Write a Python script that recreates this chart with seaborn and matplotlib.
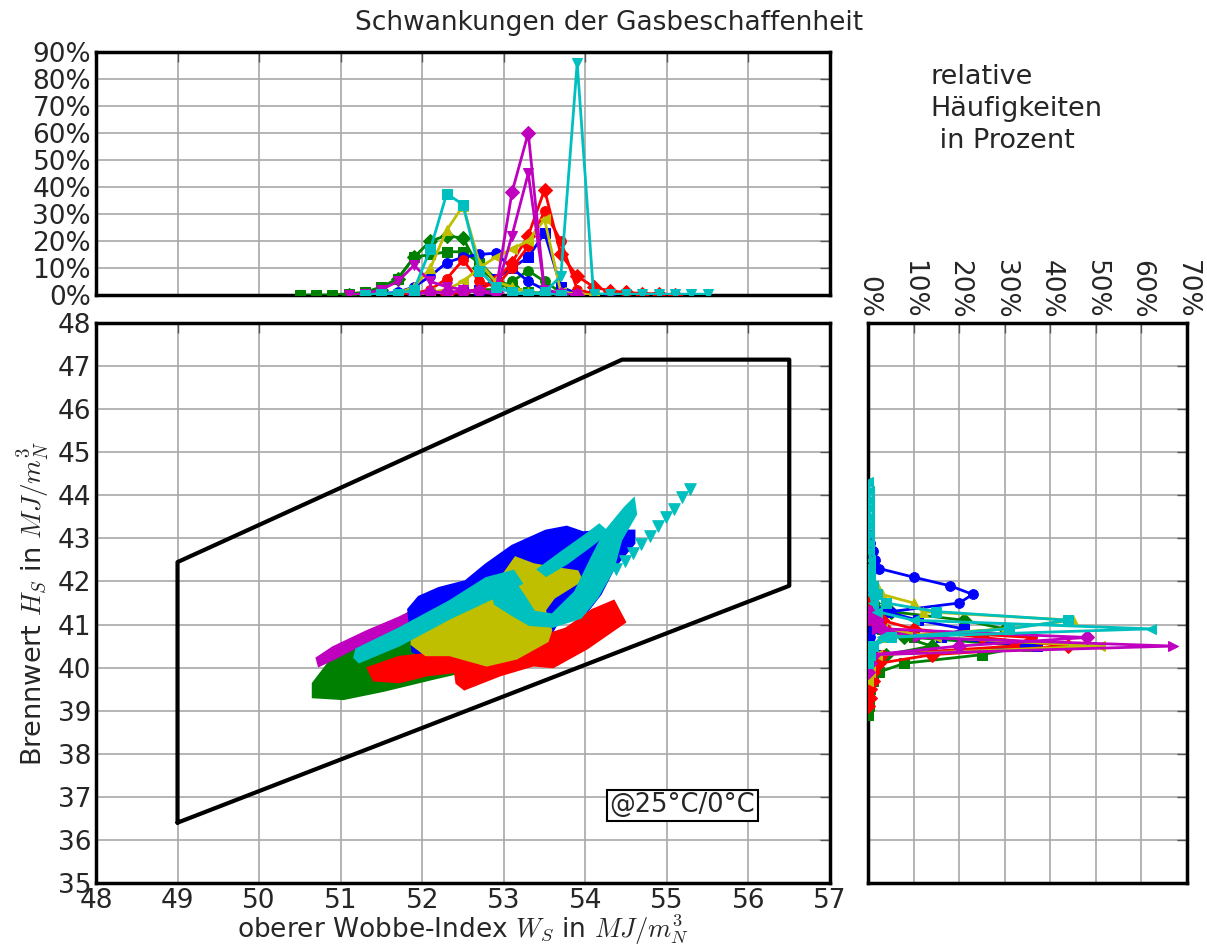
import matplotlib
matplotlib.use("Agg")
import matplotlib.pyplot as plt
import seaborn as sns

# Farben (klassisches matplotlib b g r c m y)
C_B = "#0000ff"
C_G = "#008000"
C_R = "#ff0000"
C_C = "#00bfbf"
C_M = "#bf00bf"
C_Y = "#bfbf00"

# Grenzpolygon (Wobbe-Index / Brennwert)
bound_x = [49.0, 49.0, 54.45, 56.5, 56.5, 49.0]
bound_y = [36.4, 42.45, 47.15, 47.15, 41.9, 36.4]

green_x = [50.68, 50.68, 51.03, 51.52, 52.13, 52.66, 52.9, 52.79, 52.70, 52.13, 51.52, 51.11, 50.87]
green_y = [39.62, 39.35, 39.31, 39.50, 39.78, 40.01, 40.3, 41.73, 41.81, 41.19, 40.72, 40.40, 40.09]

magenta_x = [50.72, 50.91, 51.32, 51.72, 52.05, 52.42, 52.50, 52.13, 51.72, 51.32, 50.91, 50.74]
magenta_y = [40.21, 40.45, 40.82, 41.14, 41.45, 41.78, 41.69, 41.26, 40.92, 40.62, 40.22, 40.07]

blue_x = [51.85, 51.97, 52.21, 52.54, 52.79, 53.11, 53.52, 53.77, 53.97, 54.26, 54.58,
          54.58, 54.34, 54.17, 54.01, 53.68, 53.50, 52.95, 52.30, 51.90]
blue_y = [41.34, 41.61, 41.81, 41.97, 42.36, 42.79, 43.14, 43.23, 43.10, 43.14, 43.14,
          42.90, 42.36, 41.73, 41.34, 41.19, 40.60, 40.30, 40.10, 40.40]

red_x = [51.36, 51.42, 51.72, 52.05, 52.42, 52.44, 52.52, 52.95, 53.36, 53.60, 54.01,
         54.46, 54.34, 54.09, 53.77, 53.52, 52.95, 52.54, 52.13, 51.72]
red_y = [39.97, 39.74, 39.70, 39.86, 39.94, 39.66, 39.54, 39.86, 40.09, 40.05, 40.48,
         41.07, 41.50, 41.30, 40.87, 40.72, 40.40, 40.33, 40.29, 40.21]

yellow_x = [51.89, 52.21, 52.54, 52.95, 53.15, 53.36, 53.60, 53.89, 53.93, 53.60, 53.48,
            53.56, 53.52, 53.15, 52.79, 52.34, 52.05, 51.89]
yellow_y = [40.87, 41.03, 41.58, 41.97, 42.51, 42.36, 42.28, 42.20, 42.04, 41.65, 41.34,
            40.87, 40.64, 40.25, 40.09, 40.33, 40.33, 40.56]

cyan_a_x = [51.19, 51.21, 51.72, 52.34, 52.79, 53.11, 53.19, 52.95, 52.34, 51.72, 51.23]
cyan_a_y = [40.25, 40.40, 40.87, 41.50, 42.04, 42.20, 41.97, 41.73, 41.19, 40.56, 40.17]
cyan_b_x = [52.87, 53.11, 53.23, 53.36, 53.60, 53.89, 54.09, 54.26, 54.50, 54.58, 54.60,
            54.42, 54.32, 54.13, 53.93, 53.60, 53.32, 53.11, 52.91]
cyan_b_y = [41.81, 41.97, 41.65, 41.26, 41.19, 41.73, 42.51, 43.14, 43.69, 43.84, 43.57,
            42.98, 42.28, 41.65, 41.19, 40.99, 41.03, 41.26, 41.50]
cyan_c_x = [53.44, 53.72, 54.01, 54.17, 54.26, 54.05, 53.77, 53.52]
cyan_c_y = [42.28, 42.67, 43.06, 43.29, 43.14, 42.83, 42.44, 42.16]
cyan_streak_x = [54.38, 54.48, 54.58, 54.68, 54.79, 54.89, 54.99, 55.09, 55.19, 55.28]
cyan_streak_y = [42.28, 42.47, 42.67, 42.86, 43.06, 43.29, 43.49, 43.69, 43.96, 44.15]

# Häufigkeiten oben (Wobbe-Index, Klassenbreite 0.2)
g_sq_x = [50.5, 50.7, 50.9, 51.1, 51.3, 51.5, 51.7, 51.9, 52.1, 52.3, 52.5, 52.7, 52.9, 53.1, 53.3, 53.5, 53.7]
g_sq_y = [0, 0, 0, 0.5, 1, 3, 6, 14, 15, 16, 16, 12, 6, 3, 1, 0.5, 0]
g_di_x = [51.1, 51.3, 51.5, 51.7, 51.9, 52.1, 52.3, 52.5, 52.7, 52.9, 53.1, 53.3, 53.5, 53.7]
g_di_y = [0, 0.5, 2, 6, 14, 20, 22, 21, 10, 5, 3, 1, 0.5, 0]
g_lo_x = [52.3, 52.5, 52.7, 52.9, 53.1, 53.3, 53.5, 53.7, 53.9, 54.1]
g_lo_y = [0.5, 1, 2, 2, 5, 9, 5, 1, 0, 0]
c_sq_x = [51.3, 51.5, 51.7, 51.9, 52.1, 52.3, 52.5, 52.7, 52.9, 53.1, 53.3, 53.5, 53.7]
c_sq_y = [0, 0.5, 0.5, 2, 17, 37.5, 33.5, 9, 3, 1, 0.5, 0.5, 0]
c_tr_x = [53.1, 53.3, 53.5, 53.7, 53.9, 54.1, 54.3, 54.5, 54.7, 54.9, 55.1, 55.3, 55.5]
c_tr_y = [0, 0.5, 1, 7, 86, 0.5, 0.3, 0.3, 0.3, 0.3, 0.3, 0.3, 0.3]
m_di_x = [51.9, 52.1, 52.3, 52.5, 52.7, 52.9, 53.1, 53.3, 53.5, 53.7, 53.9]
m_di_y = [0.5, 1, 1, 1.5, 1.5, 1, 38, 60, 1, 0.5, 0]
m_tr_x = [51.1, 51.3, 51.5, 51.7, 51.9, 52.1, 52.3, 52.5, 52.7, 52.9, 53.1, 53.3, 53.5, 53.7, 53.9]
m_tr_y = [0, 0.5, 2, 5, 11, 5, 3, 2, 1, 0.5, 22, 45, 2, 0.5, 0]
r_di_x = [52.3, 52.5, 52.7, 52.9, 53.1, 53.3, 53.5, 53.7, 53.9, 54.1, 54.3, 54.5, 54.7, 54.9, 55.1]
r_di_y = [0.5, 1, 2, 5, 12, 22, 39, 15, 7, 3, 1.5, 1, 0.5, 0.5, 0]
r_o_x = [51.7, 51.9, 52.1, 52.3, 52.5, 52.7, 52.9, 53.1, 53.3, 53.5, 53.7, 53.9, 54.1]
r_o_y = [0, 0.5, 2, 6, 13, 5, 3, 10, 18, 31, 20, 2, 0.5]
y_tr_x = [51.5, 51.7, 51.9, 52.1, 52.3, 52.5, 52.7, 52.9, 53.1, 53.3, 53.5, 53.7]
y_tr_y = [0, 0.5, 3, 10, 24, 33, 12, 5, 3, 1, 0.5, 0]
y_tl_x = [51.9, 52.1, 52.3, 52.5, 52.7, 52.9, 53.1, 53.3, 53.5, 53.7, 53.9, 54.1]
y_tl_y = [0, 1, 2, 5, 10, 14, 17, 20, 28, 1, 0.5, 0]
b_o_x = [51.5, 51.7, 51.9, 52.1, 52.3, 52.5, 52.7, 52.9, 53.1, 53.3, 53.5, 53.7, 53.9, 54.1]
b_o_y = [0.5, 1, 3, 7, 12, 14, 15, 15.5, 10, 5, 2, 0.5, 0, 0]
b_sq_x = [52.3, 52.5, 52.7, 52.9, 53.1, 53.3, 53.5, 53.7, 53.9, 54.1, 54.3]
b_sq_y = [0.5, 1, 2, 6, 10, 14, 23, 3, 0.5, 0, 0]

# Häufigkeiten rechts (Brennwert, Klassenbreite 0.2)
rb_o_y = [40.3, 40.5, 40.7, 40.9, 41.1, 41.3, 41.5, 41.7, 41.9, 42.1, 42.3, 42.5, 42.7, 42.9, 43.1]
rb_o_x = [0, 0, 0.5, 1, 2, 5, 20, 23, 18, 10, 2.5, 1.5, 1, 0.5, 0]
rb_sq_y = [39.9, 40.1, 40.3, 40.5, 40.7, 40.9, 41.1, 41.3, 41.5, 41.7]
rb_sq_x = [0, 0.5, 2, 37, 16, 21, 11, 4, 0.5, 0]
rc_sq_y = [40.1, 40.3, 40.5, 40.7, 40.9, 41.1, 41.3, 41.5, 41.7, 41.9, 42.1, 42.3]
rc_sq_x = [0, 0.5, 1, 5, 31, 44, 15, 4, 2, 1, 0.5, 0]
rc_tr_y = [40.1, 40.3, 40.5, 40.7, 40.9, 41.1, 41.3, 41.5, 41.7, 41.9, 42.1, 42.3, 42.5,
           42.7, 42.9, 43.1, 43.3, 43.5, 43.7, 43.9, 44.1, 44.3]
rc_tr_x = [0, 0.5, 1, 3, 62, 10, 2, 1, 0.5, 0.5, 0.5, 0.5, 0.5,
           0.3, 0.3, 0.3, 0.3, 0.3, 0.3, 0.3, 0.3, 0]
ry_1_y = [40.3, 40.5, 40.7, 40.9, 41.1, 41.3, 41.5, 41.7, 41.9, 42.1, 42.3]
ry_1_x = [0, 1, 3, 30, 45, 12, 10, 3, 2, 0.5, 0]
ry_2_y = [39.7, 39.9, 40.1, 40.3, 40.5, 40.7, 40.9, 41.1, 41.3]
ry_2_x = [0, 0.5, 0.5, 2, 51, 15, 3, 1, 0]
rm_1_y = [39.9, 40.1, 40.3, 40.5, 40.7, 40.9, 41.1, 41.3]
rm_1_x = [0, 0.5, 1, 67, 11, 2, 1, 0]
rm_2_y = [39.9, 40.1, 40.3, 40.5, 40.7, 40.9, 41.1, 41.3]
rm_2_x = [0, 0.5, 1, 20, 48, 3, 2, 0.5]
rr_1_y = [39.1, 39.3, 39.5, 39.7, 39.9, 40.1, 40.3, 40.5, 40.7, 40.9, 41.1, 41.3, 41.5]
rr_1_x = [0, 0.5, 0.5, 1, 1, 2.5, 14, 44, 25, 10, 3, 1, 0]
rr_2_y = [39.7, 39.9, 40.1, 40.3, 40.5, 40.7, 40.9, 41.1, 41.3]
rr_2_x = [0, 0.5, 1, 3, 32, 36, 4, 0.5, 0]
rg_1_y = [39.9, 40.1, 40.3, 40.5, 40.7, 40.9, 41.1, 41.3, 41.5, 41.7]
rg_1_x = [0, 1, 4, 14, 8, 30, 21, 5, 1, 0]
rg_2_y = [38.9, 39.1, 39.3, 39.5, 39.7, 39.9, 40.1, 40.3, 40.5, 40.7, 40.9, 41.1]
rg_2_x = [0, 0.3, 0.3, 0.5, 1, 2.5, 8, 25, 35, 10, 3, 0]

top_ticks = [0, 10, 20, 30, 40, 50, 60, 70, 80, 90]
right_ticks = [0, 10, 20, 30, 40, 50, 60, 70]

sns.set_style("whitegrid", {"axes.edgecolor": "black", "grid.color": "#a8a8a8",
                            "xtick.direction": "in", "ytick.direction": "in"})
plt.rcParams["font.family"] = ["DejaVu Sans"]
plt.rcParams["mathtext.fontset"] = "cm"

fig = plt.figure(figsize=(12.07, 9.47), dpi=100)
ax = fig.add_axes([0.0795, 0.0676, 0.6082, 0.5913])
axt = fig.add_axes([0.0795, 0.6885, 0.6082, 0.2566])
axr = fig.add_axes([0.7191, 0.0676, 0.2643, 0.5913])

for a in (ax, axt, axr):
    for s in a.spines.values():
        s.set_linewidth(2.5)
        s.set_color("black")
    a.grid(True, color="#a8a8a8", linewidth=1.2)
    a.set_axisbelow(True)
    a.tick_params(direction="in", length=7, width=1, color="#555555",
                  top=True, right=True, labelsize=19)

# Hauptdiagramm
ax.fill(green_x, green_y, color=C_G, lw=4, ec=C_G, zorder=3)
ax.fill(magenta_x, magenta_y, color=C_M, lw=3, ec=C_M, zorder=3)
ax.fill(blue_x, blue_y, color=C_B, lw=4, ec=C_B, zorder=3)
ax.fill(red_x, red_y, color=C_R, lw=4, ec=C_R, zorder=3)
ax.fill(yellow_x, yellow_y, color=C_Y, lw=4, ec=C_Y, zorder=3)
ax.fill(cyan_a_x, cyan_a_y, color=C_C, lw=4, ec=C_C, zorder=3)
ax.fill(cyan_b_x, cyan_b_y, color=C_C, lw=4, ec=C_C, zorder=3)
ax.fill(cyan_c_x, cyan_c_y, color=C_C, lw=3, ec=C_C, zorder=3)
sns.scatterplot(x=cyan_streak_x, y=cyan_streak_y, color=C_C, marker="v", s=70,
                edgecolor=C_C, ax=ax, zorder=3, legend=False)
ax.plot(bound_x, bound_y, color="black", lw=3, zorder=4)

ax.text(55.19, 36.8, "@25°C/0°C", fontsize=18.5, ha="center", va="center", zorder=5,
        bbox=dict(boxstyle="square,pad=0.1", fc="white", ec="black", lw=1.5))

ax.set_xlim(48, 57)
ax.set_ylim(35, 48)
ax.set_xticks(range(48, 58))
ax.set_yticks(range(35, 49))
ax.set_xlabel(r"oberer Wobbe-Index $W_S$ in $MJ/m_N^3$", fontsize=19, labelpad=-1)
ax.set_ylabel(r"Brennwert $H_S$ in $MJ/m_N^3$", fontsize=19.5, labelpad=4)

# Histogramm oben
top_series = [
    (g_sq_x, g_sq_y, C_G, "s"), (g_di_x, g_di_y, C_G, "D"), (g_lo_x, g_lo_y, C_G, "o"),
    (b_o_x, b_o_y, C_B, "o"), (b_sq_x, b_sq_y, C_B, "s"),
    (r_o_x, r_o_y, C_R, "o"), (r_di_x, r_di_y, C_R, "D"),
    (y_tr_x, y_tr_y, C_Y, "^"), (y_tl_x, y_tl_y, C_Y, "<"),
    (m_tr_x, m_tr_y, C_M, "v"), (m_di_x, m_di_y, C_M, "D"),
    (c_sq_x, c_sq_y, C_C, "s"), (c_tr_x, c_tr_y, C_C, "v"),
]
for xs, ys, col, mk in top_series:
    sns.lineplot(x=xs, y=ys, ax=axt, color=col, marker=mk, markersize=7,
                 markeredgecolor=col, linewidth=2, sort=False, estimator=None,
                 legend=False, zorder=3)
axt.set_xlim(48, 57)
axt.set_ylim(0, 90)
axt.set_xticks(range(48, 58))
axt.set_yticks(top_ticks)
axt.set_yticklabels([f"{t}%" for t in top_ticks])
axt.tick_params(labelbottom=False)

# Histogramm rechts
right_series = [
    (rg_2_x, rg_2_y, C_G, "s"), (rg_1_x, rg_1_y, C_G, "D"),
    (rb_o_x, rb_o_y, C_B, "o"), (rb_sq_x, rb_sq_y, C_B, "s"),
    (rr_1_x, rr_1_y, C_R, "D"), (rr_2_x, rr_2_y, C_R, "o"),
    (ry_1_x, ry_1_y, C_Y, "^"), (ry_2_x, ry_2_y, C_Y, "<"),
    (rm_2_x, rm_2_y, C_M, "D"), (rm_1_x, rm_1_y, C_M, ">"),
    (rc_sq_x, rc_sq_y, C_C, "s"), (rc_tr_x, rc_tr_y, C_C, "<"),
]
for xs, ys, col, mk in right_series:
    sns.lineplot(x=xs, y=ys, ax=axr, color=col, marker=mk, markersize=7,
                 markeredgecolor=col, linewidth=2, sort=False, estimator=None,
                 orient="y", legend=False, zorder=3)
axr.set_xlim(0, 70)
axr.set_ylim(35, 48)
axr.set_yticks(range(35, 49))
axr.set_xticks(right_ticks)
axr.set_xticklabels([f"{t}%" for t in right_ticks], rotation=270)
axr.tick_params(labelbottom=False, labeltop=True, labelleft=False)
axr.set_xlabel("")
axr.set_ylabel("")

fig.suptitle("Schwankungen der Gasbeschaffenheit", fontsize=19, y=0.989, x=0.505)
fig.text(0.771, 0.932, "relative\nHäufigkeiten\n in Prozent", fontsize=19.5,
         ha="left", va="top", linespacing=1.3)

fig.savefig("out.png", dpi=100)
